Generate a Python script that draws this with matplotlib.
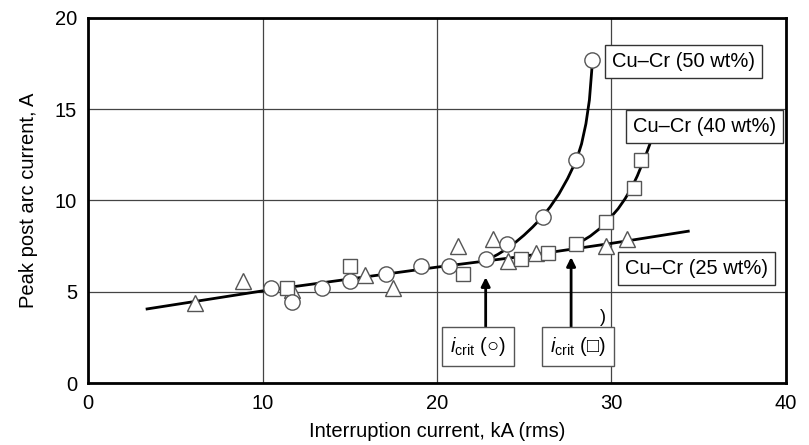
import matplotlib.pyplot as plt
import numpy as np

plt.rcParams['font.family'] = ['Liberation Sans', 'DejaVu Sans']
plt.rcParams['mathtext.fontset'] = 'custom'
plt.rcParams['mathtext.it'] = 'Liberation Sans:italic'
plt.rcParams['mathtext.rm'] = 'Liberation Sans'

# measured points
tri_x = [6.1, 8.9, 11.7, 15.9, 17.5, 21.2, 23.2, 24.1, 25.7, 29.7, 30.9]
tri_y = [4.4, 5.6, 5.1, 5.9, 5.2, 7.5, 7.9, 6.7, 7.1, 7.5, 7.9]

cir_x = [10.5, 11.7, 13.4, 15.0, 17.1, 19.1, 20.7, 22.8, 24.0, 26.1, 28.0, 28.9]
cir_y = [5.2, 4.45, 5.2, 5.6, 6.0, 6.4, 6.4, 6.8, 7.6, 9.1, 12.2, 17.7]

sq_x = [11.4, 15.0, 21.5, 24.8, 26.4, 28.0, 29.7, 31.3, 31.7]
sq_y = [5.2, 6.4, 6.0, 6.8, 7.1, 7.6, 8.8, 10.7, 12.2]

# fitted curves
fit25_x = [3.3, 10.0, 15.0, 20.0, 25.0, 30.0, 34.5]
fit25_y = [4.05, 5.05, 5.7, 6.35, 6.95, 7.65, 8.33]
fit50_x = [23.0, 23.5, 24.0, 24.5, 25.0, 25.5, 26.0, 26.5, 27.0, 27.5, 28.0, 28.3, 28.55, 28.75, 28.9]
fit50_y = [6.8, 7.05, 7.35, 7.7, 8.1, 8.55, 9.05, 9.65, 10.35, 11.2, 12.2, 13.1, 14.2, 15.5, 17.3]
fit40_x = [27.6, 28.2, 28.8, 29.4, 29.9, 30.4, 30.8, 31.2, 31.5, 31.8, 32.05, 32.3]
fit40_y = [7.4, 7.7, 8.05, 8.5, 9.0, 9.55, 10.1, 10.75, 11.35, 12.05, 12.65, 13.3]

fig = plt.figure(figsize=(8.09, 4.45), dpi=100)
ax = fig.add_axes([0.109, 0.139, 0.862, 0.821])

for fx, fy in [(fit25_x, fit25_y), (fit50_x, fit50_y), (fit40_x, fit40_y)]:
    ax.plot(fx, fy, color='black', lw=2.0, zorder=2, solid_capstyle='butt')

mk = dict(linestyle='none', markerfacecolor='white', markeredgecolor='#555555',
          markeredgewidth=1.0, zorder=3)
ax.plot(tri_x, tri_y, marker='^', markersize=11.5, **mk)
ax.plot(sq_x, sq_y, marker='s', markersize=10.5, **mk)
ax.plot(cir_x, cir_y, marker='o', markersize=11, **mk)

fs = 14.5
box = dict(boxstyle='square,pad=0.35', facecolor='white', edgecolor='#333333', lw=1.0)
ax.text(34.15, 17.6, 'Cu\u2013Cr (50 wt%)', ha='center', va='center', fontsize=fs, bbox=box, zorder=5)
ax.text(35.35, 14.05, 'Cu\u2013Cr (40 wt%)', ha='center', va='center', fontsize=fs, bbox=box, zorder=5)
ax.text(34.9, 6.3, 'Cu\u2013Cr (25 wt%)', ha='center', va='center', fontsize=fs, bbox=box, zorder=5)

# critical current arrows
arr = dict(arrowstyle='-|>', color='black', lw=2.0, mutation_scale=13)
ax.annotate('', xy=(22.8, 5.95), xytext=(22.8, 2.8), arrowprops=arr, zorder=4)
ax.annotate('', xy=(27.7, 7.05), xytext=(27.7, 2.8), arrowprops=arr, zorder=4)
cbox = dict(boxstyle='square,pad=0.4', facecolor='white', edgecolor='#555555', lw=1.0)
ax.text(22.35, 2.0, r'$i_{\mathrm{crit}}$' + ' (\u25cb)', ha='center', va='center', fontsize=fs,
        bbox=cbox, zorder=5)
ax.text(28.1, 2.0, r'$i_{\mathrm{crit}}$' + ' (\u25a1)', ha='center', va='center', fontsize=fs,
        bbox=cbox, zorder=5)
ax.text(29.55, 3.6, ')', ha='center', va='center', fontsize=13)

ax.set_xlim(0, 40)
ax.set_ylim(0, 20)
ax.set_xticks([0, 10, 20, 30, 40])
ax.set_yticks([0, 5, 10, 15, 20])
ax.grid(True, color='#444444', lw=0.9)
ax.set_axisbelow(True)
ax.tick_params(length=0, labelsize=fs, pad=8)
for s in ax.spines.values():
    s.set_linewidth(2)

ax.set_xlabel('Interruption current, kA (rms)', fontsize=fs, labelpad=6)
ax.set_ylabel('Peak post arc current, A', fontsize=fs, labelpad=12)

fig.savefig('out.png', dpi=100)
